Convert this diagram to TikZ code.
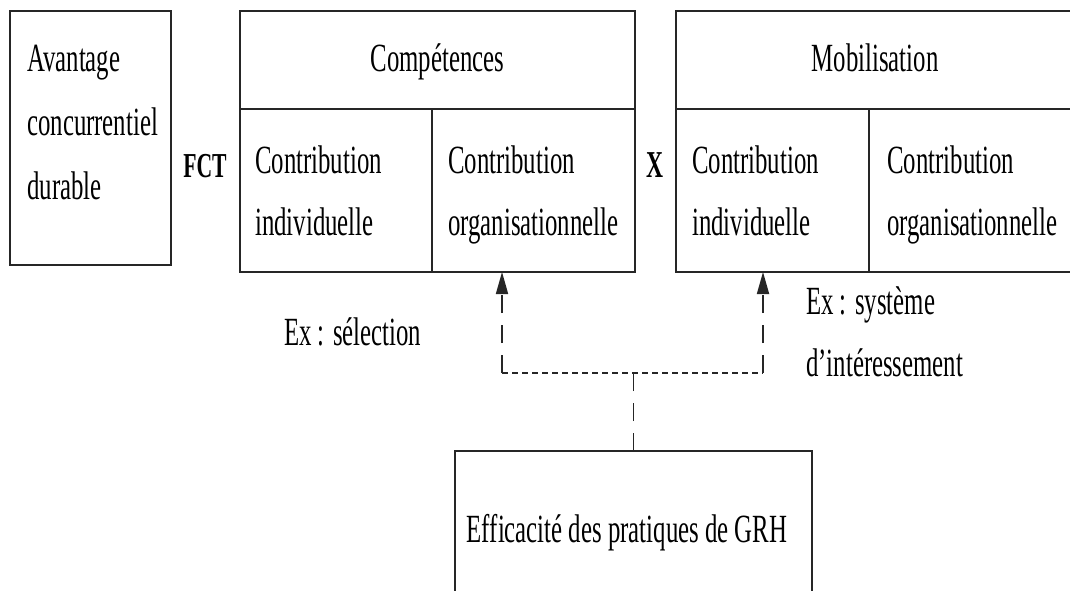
\documentclass[tikz,border=0pt]{standalone}
\usepackage{fontspec}
\setmainfont{Liberation Serif}[FakeStretch=0.62]
\usetikzlibrary{arrows.meta}

\begin{document}
\begin{tikzpicture}[x=1pt,y=-1pt,
  frame/.style={draw=black!85,line width=1.9pt,inner sep=0pt,outer sep=0pt,
                anchor=north west},
  txt/.style={font=\fontsize{40}{62}\selectfont,align=left,inner sep=0pt},
  optxt/.style={font=\fontsize{38}{62}\selectfont\bfseries,inner sep=0pt,anchor=base},
  longdash/.style={draw=black!85,line width=1.7pt,dash pattern=on 18pt off 12pt},
  shortdash/.style={draw=black!85,line width=1.9pt,dash pattern=on 6pt off 4pt},
  tip/.style={-{Triangle[length=22pt,width=12pt]}}]

\path[use as bounding box] (0,0) rectangle (1070,591);
\clip (0,0) rectangle (1070,591);
\fill[white] (0,0) rectangle (1070,591);

% left-hand box
\node[frame,minimum width=161pt,minimum height=254pt] (adv) at (10,11) {};
\node[txt,anchor=north west,font=\fontsize{40}{64}\selectfont] (advt) at (27,45)
  {Avantage\\concurrentiel\\durable};

% operator between the two blocks
\node[optxt,font=\fontsize{35}{62}\selectfont\bfseries] (fct) at (205,177) {FCT};

% skills block
\node[frame,minimum width=395pt,minimum height=98pt] (comp) at (240,11) {};
\node[txt,anchor=base] (compt) at (comp.center |- 0,72) {Compétences};
\node[frame,minimum width=192pt,minimum height=163pt] (ci) at (240,109) {};
\node[frame,minimum width=203pt,minimum height=163pt] (co) at (432,109) {};
\node[txt,anchor=north west] (cit) at (255,146) {Contribution\\individuelle};
\node[txt,anchor=north west] (cot) at (448,146) {Contribution\\organisationnelle};

\node[optxt] (times) at (655,177) {X};

% mobilisation block
\node[frame,minimum width=398pt,minimum height=98pt] (mob) at (676,11) {};
\node[txt,anchor=base] (mobt) at (mob.center |- 0,72) {Mobilisation};
\node[frame,minimum width=193pt,minimum height=163pt] (mi) at (676,109) {};
\node[frame,minimum width=205pt,minimum height=163pt] (mo) at (869,109) {};
\node[txt,anchor=north west] (mit) at (692,146) {Contribution\\individuelle};
\node[txt,anchor=north west] (mot) at (887,146) {Contribution\\organisationnelle};

% HR practices box
\node[frame,minimum width=357pt,minimum height=200pt] (eff) at (455,451) {};
\node[txt,anchor=base] (efft) at (627,542) {Efficacité des pratiques de GRH};

% examples
\node[txt,anchor=base west] (ex1) at (284,345) {Ex : sélection};
\node[txt,anchor=north west] (ex2) at (806,286) {Ex : système\\d’intéressement};

% dashed links
\coordinate (jl) at (502,373);
\coordinate (jr) at (763,373);
\coordinate (jm) at (eff.north |- jl);
\draw[longdash] (eff.north) -- (jm);
\draw[shortdash] (jl) -- (jr);
\draw[longdash,tip] (jl) -- (jl |- co.south);
\draw[longdash,tip] (jr) -- (jr |- mi.south);
\end{tikzpicture}
\end{document}
